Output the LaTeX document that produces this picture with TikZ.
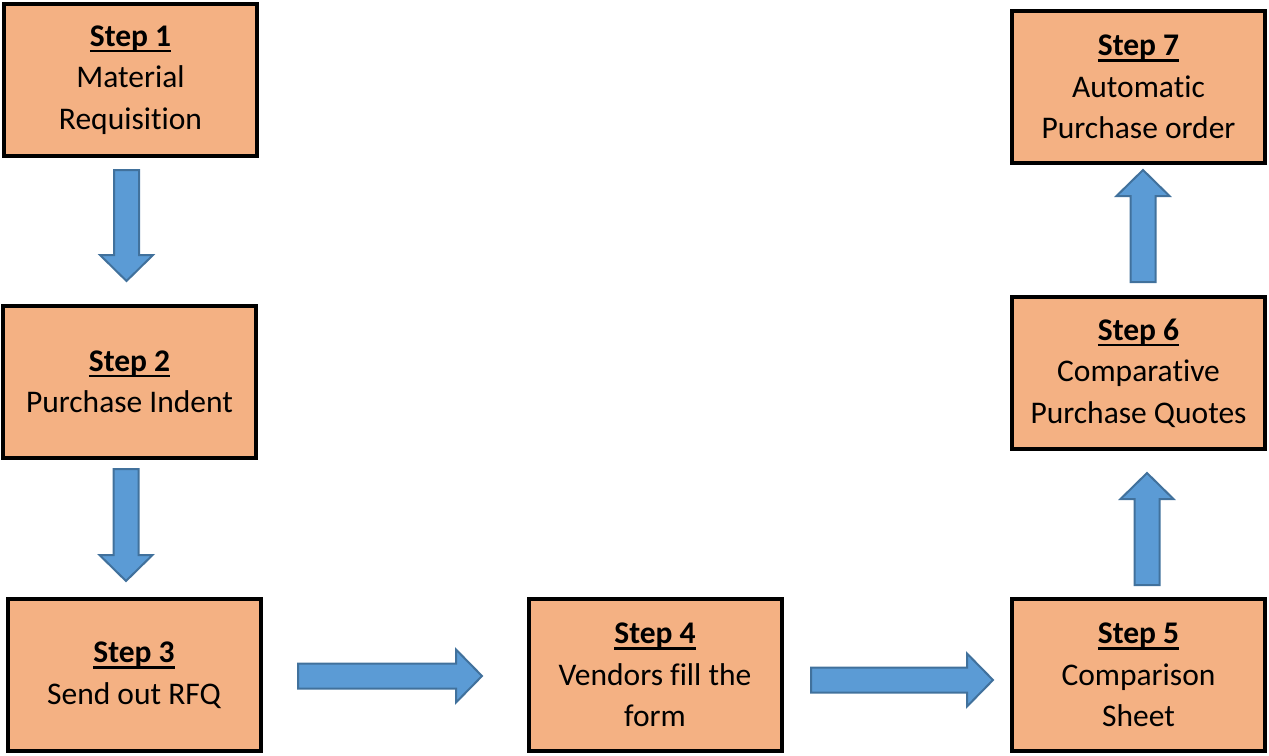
\documentclass[tikz,border=0pt]{standalone}
\usepackage{fontspec}
\setmainfont{Carlito}[Ligatures=NoCommon]
\definecolor{boxfill}{HTML}{F4B183}
\definecolor{arrfill}{HTML}{5B9BD5}
\definecolor{arrline}{HTML}{41719C}
% bold heading with a Word-style underline crossing the descenders
\newcommand\stephead[1]{\setbox0\hbox{\bfseries #1}\rlap{\rule[-6pt]{\wd0}{2.5pt}}\box0}
\tikzset{
  stepbox/.style={draw=black, line width=4pt, fill=boxfill, minimum width=253pt,
    minimum height=152pt, inner sep=0pt, align=center,
    font=\fontsize{31.5}{41.5}\selectfont},
  arrowbody/.style={draw=arrline, line width=2pt, fill=arrfill, line join=miter},
  pics/blockarr/.style={code={
    \draw[arrowbody] (0,-12.5) -- (#1-26,-12.5) -- (#1-26,-26.5) -- (#1,0)
      -- (#1-26,26.5) -- (#1-26,12.5) -- (0,12.5) -- cycle;}}
}
\begin{document}
\begin{tikzpicture}[x=1pt, y=-1pt]
  \useasboundingbox (0,0) rectangle (1269,755);

  % process steps
  \node[stepbox] (s1) at (130.5,80)  {\stephead{Step 1}\\Material\\Requisition};
  \node[stepbox] (s2) at (129.5,382) {\stephead{Step 2}\\Purchase Indent};
  \node[stepbox] (s3) at (134,675)   {\stephead{Step 3}\\Send out RFQ};
  \node[stepbox] (s4) at (655,675)   {\stephead{Step 4}\\Vendors fill the\\form};
  \node[stepbox] (s5) at (1138.5,675){\stephead{Step 5}\\Comparison\\Sheet};
  \node[stepbox] (s6) at (1138.5,373){\stephead{Step 6}\\Comparative\\Purchase Quotes};
  \node[stepbox] (s7) at (1138.5,87) {\stephead{Step 7}\\Automatic\\Purchase order};

  % start points of the block arrows
  \coordinate (a12) at (126.5,170);
  \coordinate (a23) at (126,469);
  \coordinate (a34) at (298,676);
  \coordinate (a45) at (811,680);
  \coordinate (a56) at (1147,585);
  \coordinate (a67) at (1143,282);

  % block arrows between the steps
  \pic[rotate=-90] at (a12) {blockarr=111};
  \pic[rotate=-90] at (a23) {blockarr=112};
  \pic at (a34) {blockarr=184};
  \pic at (a45) {blockarr=182};
  \pic[rotate=90] at (a56) {blockarr=112};
  \pic[rotate=90] at (a67) {blockarr=112};
\end{tikzpicture}
\end{document}
